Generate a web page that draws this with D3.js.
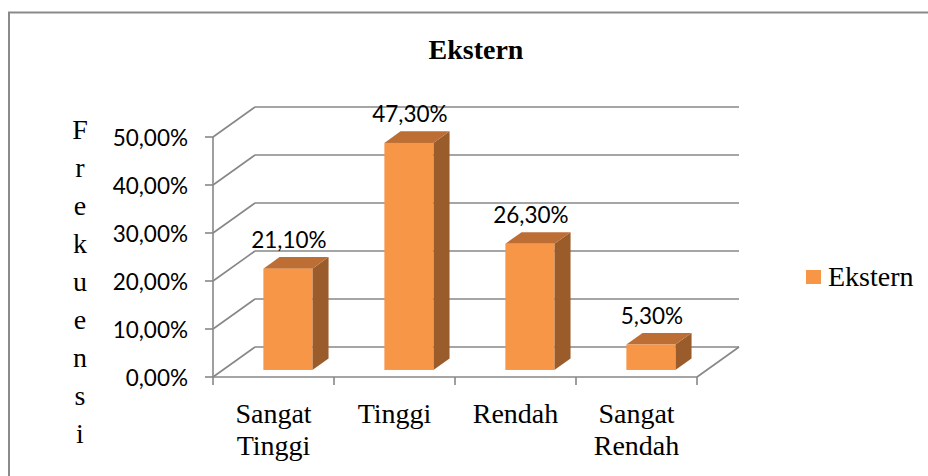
<!DOCTYPE html>
<html><head><meta charset="utf-8">
<script src="https://cdn.jsdelivr.net/npm/d3@7"></script>
<style>html,body{margin:0;padding:0;background:#fff;}</style>
</head><body><svg id="c" width="928" height="476"></svg>
<script>
const categories = [["Sangat","Tinggi"],["Tinggi"],["Rendah"],["Sangat","Rendah"]];
const values = [21.1, 47.3, 26.3, 5.3];
const valueLabels = ["21,10%","47,30%","26,30%","5,30%"];
const yTicks = [0,10,20,30,40,50];
const yTickLabels = ["0,00%","10,00%","20,00%","30,00%","40,00%","50,00%"];
const title = "Ekstern";
const seriesName = "Ekstern";
const yTitle = "Frekuensi";

const svg = d3.select("#c");
const grid = "#878787";
const numFont = "Lato, 'Open Sans', sans-serif";
const serif = "'Liberation Serif', 'Times New Roman', serif";

// outer border
svg.append("rect").attr("x",9).attr("y",12.5).attr("width",960).attr("height",520)
  .attr("fill","none").attr("stroke","#8a8a8a").attr("stroke-width",2);

const x0 = 213, x1 = 697;
const x = d3.scaleBand().domain(d3.range(categories.length)).range([x0,x1]).padding(0);
const y = d3.scaleLinear().domain([0,50]).range([377,137]);
const DX = 42, DY = -30; // full depth offset
const tFront = 0.235, tBack = 0.62;
const barW = 49, barOff = 40.5;

// back wall gridlines + left wall diagonals
yTicks.forEach(v=>{
  const yy = y(v);
  svg.append("line").attr("x1",x0).attr("y1",yy).attr("x2",x0+DX).attr("y2",yy+DY)
    .attr("stroke",grid).attr("stroke-width",1.6);
  svg.append("line").attr("x1",x0+DX).attr("y1",yy+DY).attr("x2",x1+DX).attr("y2",yy+DY)
    .attr("stroke",grid).attr("stroke-width",1.6);
});
// floor front edge and right diagonal
svg.append("line").attr("x1",x0).attr("y1",y(0)).attr("x2",x1).attr("y2",y(0)).attr("stroke",grid).attr("stroke-width",1.6);
svg.append("line").attr("x1",x1).attr("y1",y(0)).attr("x2",x1+DX).attr("y2",y(0)+DY).attr("stroke",grid).attr("stroke-width",1.6);
// y axis line
svg.append("line").attr("x1",x0).attr("y1",y(50)).attr("x2",x0).attr("y2",y(0)).attr("stroke",grid).attr("stroke-width",1.6);
// y ticks
yTicks.forEach((v,i)=>{
  svg.append("line").attr("x1",x0-8).attr("x2",x0).attr("y1",y(v)).attr("y2",y(v)).attr("stroke",grid).attr("stroke-width",1.6);
  svg.append("text").attr("x",188).attr("y",y(v)+9).attr("text-anchor","end")
    .attr("font-family",numFont).attr("font-size",22.5).attr("fill","#000").text(yTickLabels[i]);
});
// category ticks
d3.range(categories.length+1).forEach(i=>{
  const xx = x0 + i*x.step();
  svg.append("line").attr("x1",xx).attr("x2",xx).attr("y1",y(0)).attr("y2",y(0)+8).attr("stroke",grid).attr("stroke-width",1.6);
});
// bars
const base = y(0);
values.forEach((v,i)=>{
  const fx = x(i) + barOff + tFront*DX;
  const fy0 = base + tFront*DY;
  const fy1 = y(v) + tFront*DY;
  const ddx = (tBack-tFront)*DX, ddy = (tBack-tFront)*DY;
  // side
  svg.append("path").attr("d",`M${fx+barW},${fy1}L${fx+barW+ddx},${fy1+ddy}L${fx+barW+ddx},${fy0+ddy}L${fx+barW},${fy0}Z`)
    .attr("fill","#9b5c2b");
  // top
  svg.append("path").attr("d",`M${fx},${fy1}L${fx+ddx},${fy1+ddy}L${fx+barW+ddx},${fy1+ddy}L${fx+barW},${fy1}Z`)
    .attr("fill","#bc6e34");
  // front
  svg.append("rect").attr("x",fx).attr("y",fy1).attr("width",barW).attr("height",fy0-fy1).attr("fill","#f79646");
  // label
  svg.append("text").attr("x",fx+barW/2+1).attr("y",fy1-21).attr("text-anchor","middle")
    .attr("font-family",numFont).attr("font-size",22.5).attr("fill","#000").text(valueLabels[i]);
});
// category labels
categories.forEach((c,i)=>{
  c.forEach((line,j)=>{
    svg.append("text").attr("x",x(i)+x.bandwidth()/2).attr("y",423+j*32).attr("text-anchor","middle")
      .attr("font-family",serif).attr("font-size",28).attr("fill","#000").text(line);
  });
});
// title
svg.append("text").attr("x",476).attr("y",59).attr("text-anchor","middle").attr("font-family",serif)
  .attr("font-weight","bold").attr("font-size",28).attr("fill","#000").text(title);
// y title stacked
yTitle.split("").forEach((ch,i)=>{
  svg.append("text").attr("x",80).attr("y",139+i*38).attr("text-anchor","middle").attr("font-family",serif)
    .attr("font-size",28).attr("fill","#000").text(ch);
});
// legend
svg.append("rect").attr("x",806).attr("y",270).attr("width",15).attr("height",14).attr("fill","#f79646");
svg.append("text").attr("x",828).attr("y",286).attr("font-family",serif).attr("font-size",28).attr("fill","#000").text(seriesName);
</script>
</body></html>
